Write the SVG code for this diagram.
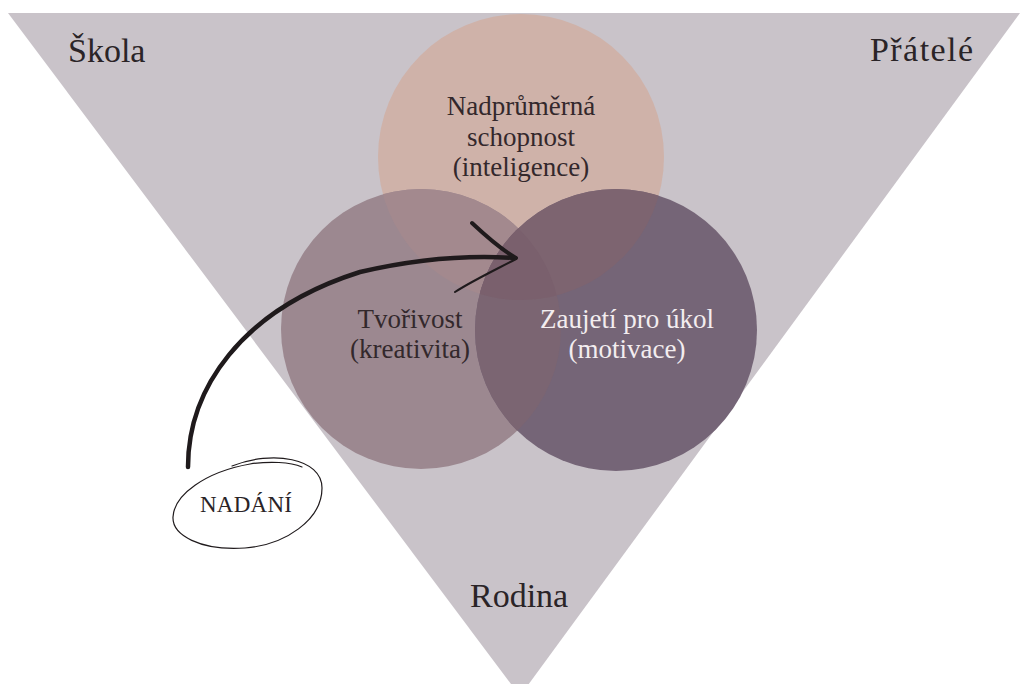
<svg xmlns="http://www.w3.org/2000/svg" width="1024" height="684" viewBox="0 0 1024 684">
<style>
.lbl{font-family:"Liberation Serif","DejaVu Serif",serif;fill:#2a2427;}
.corner{font-size:34px;}
.ctext{font-size:27px;text-anchor:middle;}
.dark{fill:#33282c;}
.light{fill:#f3edef;}
.pen{fill:none;stroke:#1f1a1c;stroke-linecap:round;stroke-linejoin:round;}
</style>
<defs>
<clipPath id="clipTop"><circle cx="521" cy="157" r="143"/></clipPath>
<clipPath id="clipLeft"><circle cx="421" cy="329" r="140"/></clipPath>
</defs>
<rect width="1024" height="684" fill="#ffffff"/>
<g id="context">
<polygon points="8,13 1020,13 520,696" fill="#c9c3c9"/>
<text class="lbl corner" x="68" y="62">Škola</text>
<text class="lbl corner" x="870" y="61" textLength="103">Přátelé</text>
<text class="lbl corner" x="470" y="607">Rodina</text>
</g>
<g id="circle-ability">
<circle cx="521" cy="157" r="143" fill="#cfb2a9"/>
</g>
<g id="circle-creativity">
<circle cx="421" cy="329" r="140" fill="#9c8890"/>
<circle cx="421" cy="329" r="140" fill="#a3898e" clip-path="url(#clipTop)"/>
</g>
<g id="circle-motivation">
<circle cx="616" cy="330" r="141" fill="#756577"/>
<circle cx="616" cy="330" r="141" fill="#7b6572" clip-path="url(#clipLeft)"/>
<circle cx="616" cy="330" r="141" fill="#7d6470" clip-path="url(#clipTop)"/>
<g clip-path="url(#clipLeft)"><circle cx="616" cy="330" r="141" fill="#7a606d" clip-path="url(#clipTop)"/></g>
</g>
<g id="labels">
<text class="lbl ctext dark" x="521" y="115">Nadprůměrná</text>
<text class="lbl ctext dark" x="521" y="146">schopnost</text>
<text class="lbl ctext dark" x="521" y="176">(inteligence)</text>
<text class="lbl ctext dark" x="410" y="328">Tvořivost</text>
<text class="lbl ctext dark" x="410" y="358">(kreativita)</text>
<text class="lbl ctext light" x="627" y="328">Zaujetí pro úkol</text>
<text class="lbl ctext light" x="627" y="358">(motivace)</text>
</g>
<g id="nadani">
<path class="pen" stroke-width="1.2" d="M232,466 C272,450 322,458 322,488 C322,520 285,545 245,548 C200,551 172,535 173,517 C174,495 205,472 250,464 C270,461 290,462 302,467"/>
<text class="lbl" x="200" y="512" font-size="23" textLength="92">NADÁNÍ</text>
</g>
<g id="connectors">
<path class="pen" stroke-width="4.5" d="M188,467 C188,390 240,310 360,272 C420,258 470,255 515,258"/>
<path class="pen" stroke-width="4" d="M472,223 C488,238 502,250 516,258"/>
<path class="pen" stroke-width="2" d="M516,259 C495,270 472,281 455,292"/>
</g>
</svg>
